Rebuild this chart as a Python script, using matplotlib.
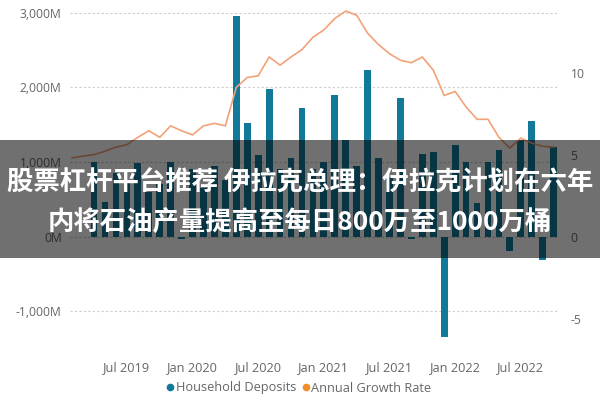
import numpy as np
import pandas as pd
import matplotlib
matplotlib.use("Agg")
import matplotlib.pyplot as plt
from matplotlib.lines import Line2D
from matplotlib.patches import Rectangle
from matplotlib.ticker import FuncFormatter

plt.rcParams['font.family'] = ['Open Sans', 'DejaVu Sans']

months = pd.period_range('2019-02', '2022-10', freq='M')
month_labels = [m.strftime('%b %Y') for m in months]

household_deposits = [
    np.nan, np.nan,                                   # Feb-Mar 2019
    1000, 460, 850, 720, 980, 600, 700, 1000, -40,    # Apr-Dec 2019
    900, 650, 950, 760, 2960, 1520, 1100, 1980, 900, 1050, 1720, 900,   # 2020
    1000, 1900, 1290, 950, 2230, 1050, 800, 1860, -30, 1110, 1130, -1350,  # 2021
    1230, 1000, 450, 1000, 1160, -200, 1300, 1550, -320, 1200,  # Jan-Oct 2022
]

annual_growth_rate = [
    4.8, 4.9,
    5.0, 5.2, 5.45, 5.6, 6.05, 6.45, 6.05, 6.75, 6.45,
    6.2, 6.75, 6.9, 6.75, 9.1, 9.7, 9.8, 10.95, 10.45, 10.95, 11.4, 12.15,
    12.6, 13.3, 13.75, 13.5, 12.4, 11.7, 11.15, 10.75, 10.6, 10.95, 10.15, 8.6,
    8.85, 7.9, 7.15, 7.15, 6.05, 5.4, 6.0, 5.7, 5.5, 5.45,
]

tick_months = ['Jul 2019', 'Jan 2020', 'Jul 2020', 'Jan 2021',
               'Jul 2021', 'Jan 2022', 'Jul 2022']
left_ticks = [-1000, 0, 1000, 2000, 3000]
right_ticks = [-5, 0, 5, 10]

title_lines = ['股票杠杆平台推荐 伊拉克总理：伊拉克计划在六年',
               '内将石油产量提高至每日800万至1000万桶']
legend_names = ['Household Deposits', 'Annual Growth Rate']

bar_color = '#12799A'
line_color = '#F2A277'
legend_line_color = '#F28E2B'
text_color = '#666666'

fig = plt.figure(figsize=(6, 4), dpi=100)
ax = fig.add_axes([70/600, 1-350/400, (558-70)/600, (350-5)/400])
ax2 = ax.twinx()

x = np.arange(len(months))
ax.bar(x, household_deposits, width=0.62, color=bar_color, zorder=2)
ax2.plot(x, annual_growth_rate, color=line_color, lw=1.2, zorder=3)

ax.set_xlim(-0.2, len(months) - 0.6)
ax.set_ylim(-1523, 3107)
ax2.set_ylim(-6.92, 14.12)

ax.set_yticks(left_ticks)
ax.yaxis.set_major_formatter(FuncFormatter(lambda v, p: f"{v:,.0f}M"))
ax2.set_yticks(right_ticks)
ax2.set_yticklabels([str(t) for t in right_ticks])

tick_pos = [month_labels.index(t) for t in tick_months]
ax.set_xticks(tick_pos)
ax.set_xticklabels(tick_months)

for a in (ax, ax2):
    for s in a.spines.values():
        s.set_visible(False)
    a.tick_params(length=0, labelsize=8.7, labelcolor=text_color)
ax.tick_params(axis='x', labelsize=9.2, pad=8)
ax.tick_params(axis='y', pad=6)
ax2.tick_params(axis='y', pad=9)

ax.grid(axis='y', color='#cccccc', linestyle=(0, (2, 2)), lw=0.8, zorder=0)
ax.set_axisbelow(True)

handles = [Line2D([], [], marker='o', ls='none', color=bar_color, markersize=4.5),
           Line2D([], [], marker='o', ls='none', color=legend_line_color, markersize=4.5)]
fig.legend(handles, legend_names, loc='center', bbox_to_anchor=(0.497, 1-388/400),
           ncol=2, frameon=False, fontsize=9.2, labelcolor=text_color,
           handletextpad=0.05, columnspacing=0.35, handlelength=0.8)

# dark banner overlay with title
fig.patches.append(Rectangle((0, 1-258/400), 1, 118/400, transform=fig.transFigure,
                             facecolor='black', alpha=0.56, zorder=10))
fig.text(0.5, 1-183/400, title_lines[0], ha='center', va='center', color='white',
         fontsize=19, fontweight='bold', family=['Noto Sans CJK SC', 'DejaVu Sans'], zorder=11)
fig.text(0.5, 1-222/400, title_lines[1], ha='center', va='center', color='white',
         fontsize=19, fontweight='bold', family=['Noto Sans CJK SC', 'DejaVu Sans'], zorder=11)

fig.savefig('out.png', dpi=100)
